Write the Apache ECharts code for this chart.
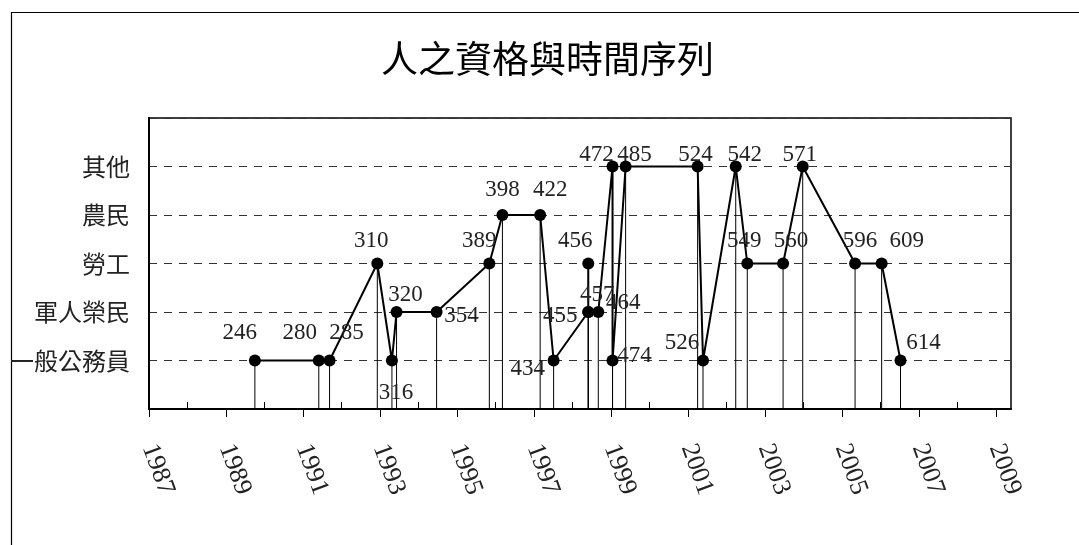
<!DOCTYPE html>
<html>
<head>
<meta charset="utf-8">
<script src="https://cdn.jsdelivr.net/npm/echarts@6/dist/echarts.min.js"></script>
<style>
  html, body { margin: 0; padding: 0; background: #fff; }
  #chart { width: 1079px; height: 545px; }
</style>
</head>
<body>
<div id="chart"></div>
<script>
  // 類別 (y 軸 1..5)
  const categories = ['一般公務員', '軍人榮民', '勞工', '農民', '其他'];

  // 案號、年份、類別索引
  const caseNos = [246, 280, 285, 310, 316, 320, 354, 389, 398, 422, 434, 455, 456, 457,
                   464, 472, 474, 485, 524, 526, 542, 549, 560, 571, 596, 609, 614];
  const years = [1989.75, 1991.41, 1991.69, 1992.93, 1993.31, 1993.43, 1994.47, 1995.84,
                 1996.18, 1997.16, 1997.51, 1998.41, 1998.41, 1998.41, 1998.67, 1999.04,
                 1999.04, 1999.38, 2001.25, 2001.39, 2002.24, 2002.54, 2003.47, 2003.98,
                 2005.34, 2006.03, 2006.52];
  const catIdx = [1, 1, 1, 3, 1, 2, 2, 3, 4, 4, 1, 2, 3, 2, 2, 5, 1, 5, 5, 1, 5, 3, 3, 5, 3, 3, 1];

  // x 軸刻度
  const yearLabels = [1987, 1989, 1991, 1993, 1995, 1997, 1999, 2001, 2003, 2005, 2007, 2009];
  const minorYears = [1988, 1990, 1992, 1994, 1996, 1998, 2000, 2002, 2004, 2006, 2008];

  // 標籤位移 (樣式)
  const labelOffsets = [[-15, -28], [-19, -28], [17, -28], [-6, -23], [4, 32], [9, -17], [25, 4],
                        [-10, -23], [0, -25], [10, -25], [-26, 8], [-28, 4], [-13, -23], [9, -17],
                        [25, -9], [-16, -12], [22, -5], [9, -12], [-2, -12], [-21, -18], [9, -12],
                        [-3, -23], [8, -23], [-3, -12], [5, -23], [25, -23], [23, -18]];

  const points = years.map((y, i) => ({
    value: [y, catIdx[i]],
    label: { offset: labelOffsets[i] }
  }));
  const drops = years.map((y, i) => [y, catIdx[i]]);

  const chart = echarts.init(document.getElementById('chart'));
  const option = {
    animation: false,
    backgroundColor: '#fff',
    graphic: [{
      type: 'rect',
      left: 9, top: 10,
      shape: { width: 1200, height: 600 },
      style: { fill: 'none', stroke: '#000', lineWidth: 1.2 },
      silent: true
    }],
    title: {
      text: '人之資格與時間序列',
      left: 376,
      top: 35,
      textStyle: {
        fontFamily: 'Noto Sans CJK TC',
        fontSize: 37,
        fontWeight: 'normal',
        color: '#000'
      }
    },
    grid: {
      left: 149, top: 118, right: 68, bottom: 136,
      show: true,
      borderColor: '#000',
      borderWidth: 1.5
    },
    xAxis: [{
      type: 'value',
      min: 1987,
      max: 2009.39,
      interval: 1,
      axisLine: { lineStyle: { color: '#000', width: 2 } },
      axisTick: {
        customValues: yearLabels,
        length: 8,
        lineStyle: { color: '#000', width: 1 }
      },
      axisLabel: {
        customValues: yearLabels,
        rotate: -70,
        margin: 36,
        fontFamily: 'Liberation Serif',
        fontSize: 26,
        color: '#222',
        formatter: v => String(v)
      },
      splitLine: { show: false }
    }, {
      type: 'value',
      position: 'bottom',
      min: 1987,
      max: 2009.39,
      interval: 1,
      axisLine: { show: false },
      axisTick: {
        customValues: minorYears,
        inside: true,
        length: 7,
        lineStyle: { color: '#000', width: 1 }
      },
      axisLabel: { show: false },
      splitLine: { show: false }
    }],
    yAxis: {
      type: 'value',
      min: 0,
      max: 6,
      interval: 1,
      axisLine: { show: true, lineStyle: { color: '#000', width: 2 } },
      axisTick: { show: false },
      axisLabel: {
        margin: 19,
        fontFamily: 'Noto Sans CJK TC',
        fontSize: 24,
        color: '#222',
        formatter: v => categories[v - 1] || ''
      },
      splitLine: {
        show: true,
        lineStyle: { color: '#333', width: 1, type: [8, 7] }
      }
    },
    series: [{
      name: '落線',
      type: 'bar',
      barWidth: 1,
      itemStyle: { color: '#000' },
      data: drops,
      silent: true,
      z: 2
    }, {
      name: '案號',
      type: 'line',
      data: points,
      symbol: 'circle',
      symbolSize: 12,
      itemStyle: { color: '#000' },
      lineStyle: { color: '#000', width: 2 },
      label: {
        show: true,
        position: 'inside',
        fontFamily: 'Liberation Serif',
        fontSize: 23,
        color: '#222',
        formatter: p => String(caseNos[p.dataIndex])
      },
      z: 3
    }]
  };
  chart.setOption(option);
</script>
</body>
</html>
